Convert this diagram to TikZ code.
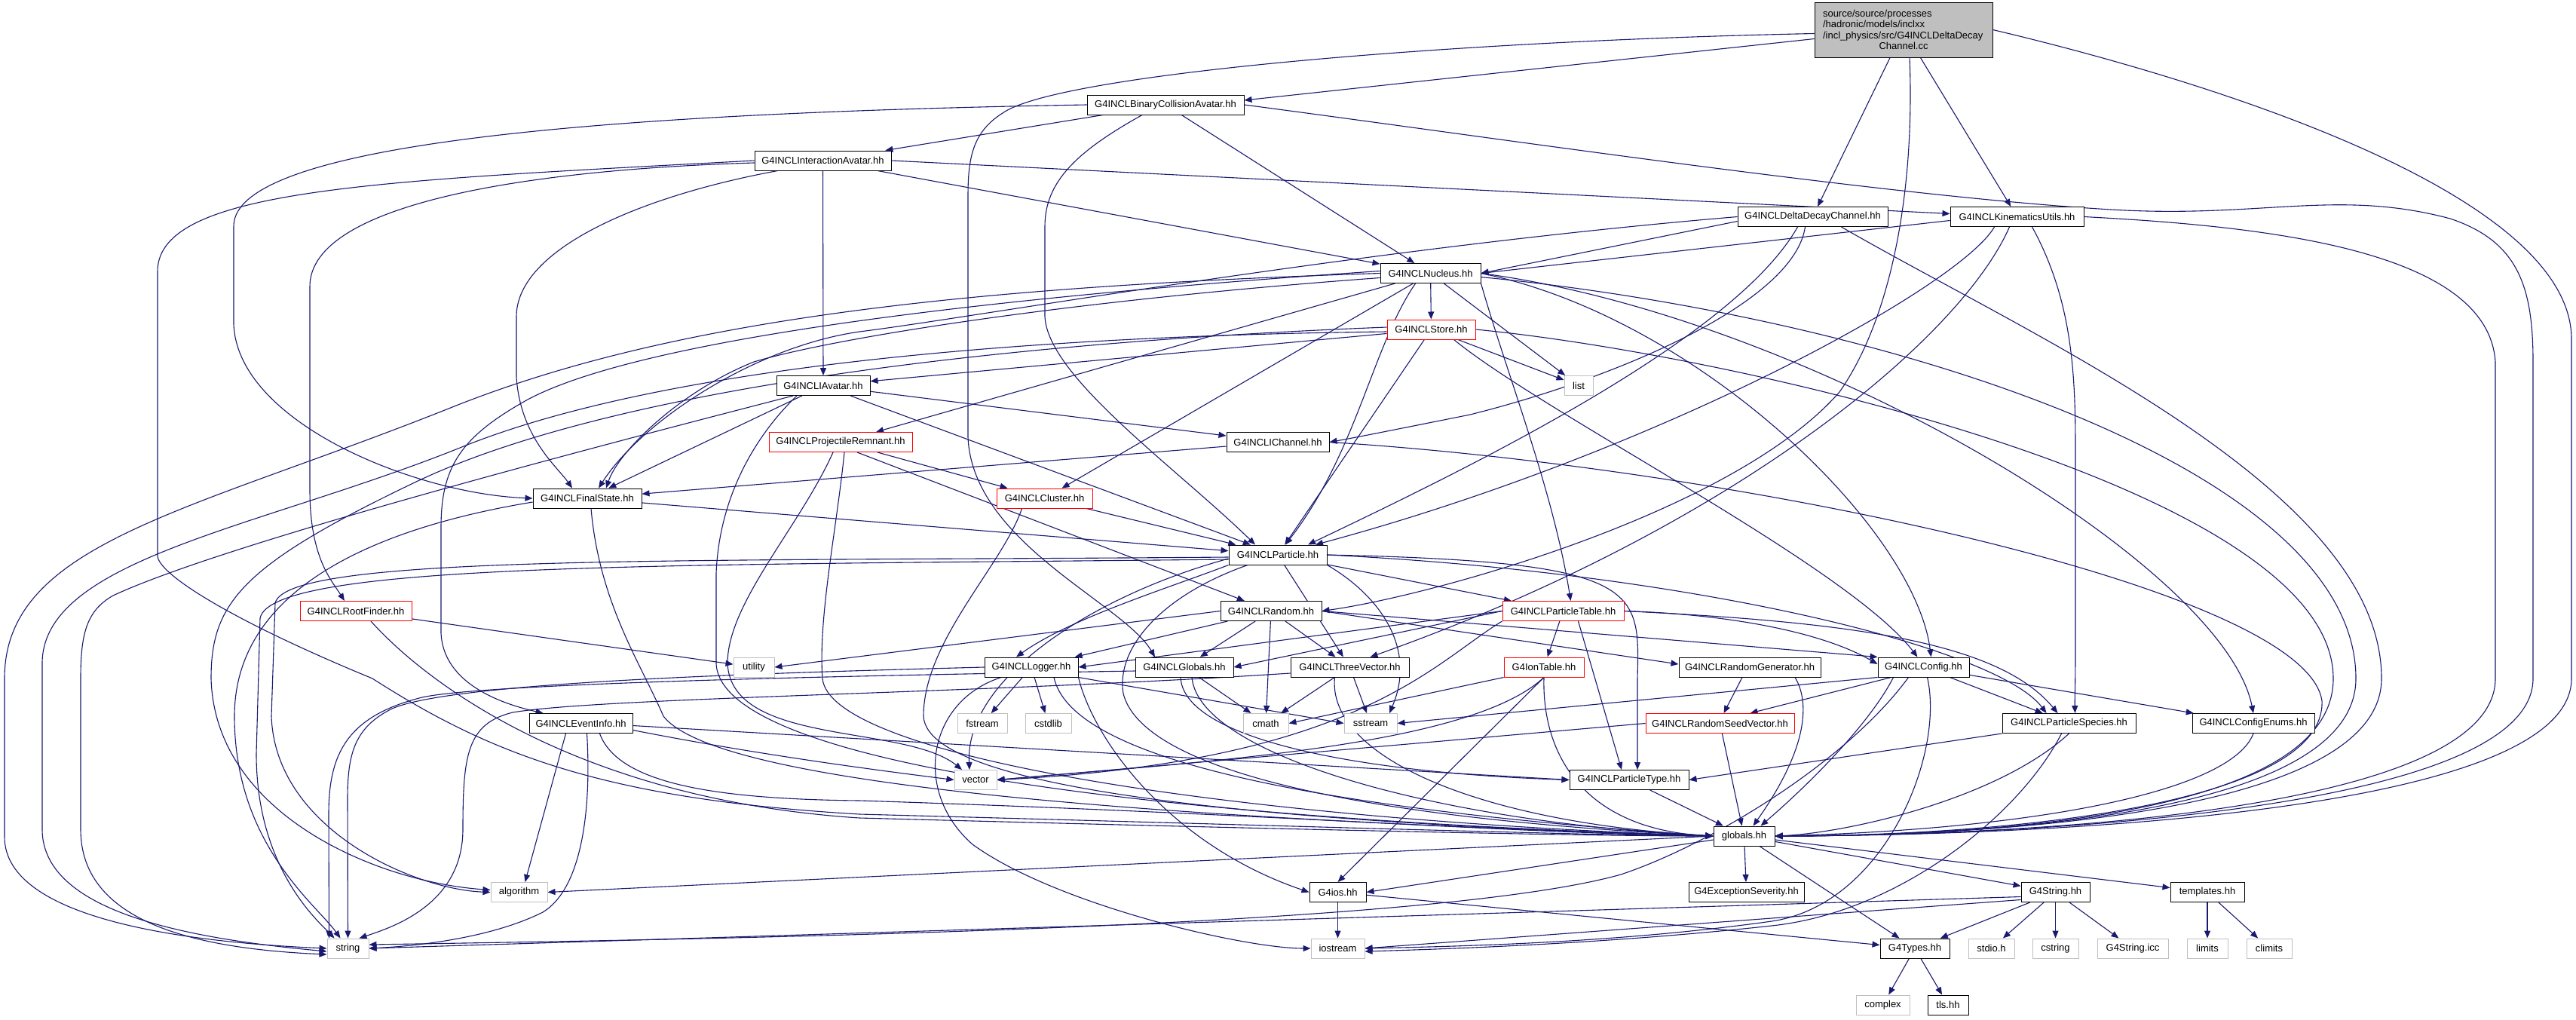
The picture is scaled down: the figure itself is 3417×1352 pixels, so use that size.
\documentclass[tikz,border=0pt]{standalone}
\usepackage{fontspec}
\setmainfont{Liberation Sans}
\usetikzlibrary{arrows.meta}
\definecolor{eb}{HTML}{191970}
\definecolor{gbord}{HTML}{BFBFBF}
\definecolor{mgray}{HTML}{BFBFBF}
\pgfdeclarelayer{bg}
\pgfsetlayers{bg,main}
\tikzset{
 nbox/.style={draw, fill=white, line width=1pt, minimum height=26pt, inner sep=0pt, anchor=center},
 nb/.style={nbox, draw=black},
 nr/.style={nbox, draw=red},
 ng/.style={nbox, draw=gbord},
 edg/.style={draw=eb, line width=1.1pt, -{Triangle[length=10pt,width=8pt]}},
}
\begin{document}
\begin{tikzpicture}[x=1pt,y=-1pt,font=\fontsize{13}{14.4}\selectfont]
\useasboundingbox (0,0) rectangle (3417,1352);
% nodes
\node[nbox, draw=black, fill=mgray, minimum width=236pt, minimum height=73pt, text width=214pt, inner xsep=11pt] (m) at (2525,39.5)
 {\raggedright source/source/processes\\/hadronic/models/inclxx\\/incl\_physics/src/G4INCLDeltaDecay\par\centering Channel.cc\par};
\node[nb, minimum width=208pt] (bca) at (1546,139) {G4INCLBinaryCollisionAvatar.hh};
\node[nb, minimum width=181pt] (ia) at (1091.5,213) {G4INCLInteractionAvatar.hh};
\node[nb, minimum width=133pt] (nuc) at (1897.5,362.5) {G4INCLNucleus.hh};
\node[nr, minimum width=117pt] (st) at (1898.5,437) {G4INCLStore.hh};
\node[nb, minimum width=199pt] (ddc) at (2404.5,287.5) {G4INCLDeltaDecayChannel.hh};
\node[nb, minimum width=177pt] (kin) at (2675.5,287.5) {G4INCLKinematicsUtils.hh};
\node[nb, minimum width=124pt] (iav) at (1092,511.5) {G4INCLIAvatar.hh};
\node[nr, minimum width=190pt] (pr) at (1115,586.5) {G4INCLProjectileRemnant.hh};
\node[nb, minimum width=144pt] (fs) at (779,661) {G4INCLFinalState.hh};
\node[nr, minimum width=148pt] (rf) at (472,810.5) {G4INCLRootFinder.hh};
\node[ng, minimum width=54pt] (util) at (1000,885) {utility};
\node[ng, minimum width=38pt] (lst) at (2094,511.5) {list};
\node[nb, minimum width=136pt] (ich) at (1695,586.5) {G4INCLIChannel.hh};
\node[nr, minimum width=127pt] (cl) at (1385.5,661) {G4INCLCluster.hh};
\node[nb, minimum width=130pt] (pa) at (1695,736) {G4INCLParticle.hh};
\node[nb, minimum width=134pt] (ra) at (1686,810.5) {G4INCLRandom.hh};
\node[nr, minimum width=161pt] (ptab) at (2073.5,810.5) {G4INCLParticleTable.hh};
\node[nb, minimum width=124pt] (log) at (1368,885) {G4INCLLogger.hh};
\node[nb, minimum width=130pt] (glo) at (1571,885) {G4INCLGlobals.hh};
\node[nb, minimum width=157pt] (tv) at (1790.5,885) {G4INCLThreeVector.hh};
\node[nr, minimum width=106pt] (ion) at (2048,885) {G4IonTable.hh};
\node[nb, minimum width=188pt] (rg) at (2321,885) {G4INCLRandomGenerator.hh};
\node[nb, minimum width=121pt] (cfg) at (2551.5,885) {G4INCLConfig.hh};
\node[nb, minimum width=137pt] (ev) at (770.5,959.5) {G4INCLEventInfo.hh};
\node[ng, minimum width=75pt] (alg) at (688.5,1183.5) {algorithm};
\node[ng, minimum width=55pt] (str) at (461.5,1258) {string};
\node[ng, minimum width=66pt] (fst) at (1303,959.5) {fstream};
\node[ng, minimum width=61pt] (cstd) at (1390.5,959.5) {cstdlib};
\node[ng, minimum width=60pt] (cmath) at (1679,959.5) {cmath};
\node[ng, minimum width=70pt] (sst) at (1818,959.5) {sstream};
\node[nr, minimum width=197pt] (rsv) at (2281.5,959.5) {G4INCLRandomSeedVector.hh};
\node[nb, minimum width=177pt] (ps) at (2744.5,959.5) {G4INCLParticleSpecies.hh};
\node[nb, minimum width=162pt] (ce) at (2989,959.5) {G4INCLConfigEnums.hh};
\node[ng, minimum width=56pt] (vec) at (1294,1034.5) {vector};
\node[nb, minimum width=158pt] (ptype) at (2161,1034.5) {G4INCLParticleType.hh};
\node[nb, minimum width=81pt] (gl) at (2313.5,1109) {globals.hh};
\node[nb, minimum width=75pt] (g4ios) at (1774.5,1183.5) {G4ios.hh};
\node[nb, minimum width=153pt] (exs) at (2316.5,1183.5) {G4ExceptionSeverity.hh};
\node[nb, minimum width=91pt] (g4s) at (2726.5,1183.5) {G4String.hh};
\node[nb, minimum width=98pt] (tmpl) at (2928,1183.5) {templates.hh};
\node[ng, minimum width=71pt] (ios) at (1774.5,1258) {iostream};
\node[nb, minimum width=92pt] (g4t) at (2540,1258) {G4Types.hh};
\node[ng, minimum width=61pt] (stdio) at (2641.5,1258) {stdio.h};
\node[ng, minimum width=61pt] (cstr) at (2726.5,1258) {cstring};
\node[ng, minimum width=94pt] (g4si) at (2829,1258) {G4String.icc};
\node[ng, minimum width=54pt] (lim) at (2928,1258) {limits};
\node[ng, minimum width=60pt] (clim) at (3010,1258) {climits};
\node[ng, minimum width=71pt] (cplx) at (2497.5,1333) {complex};
\node[nb, minimum width=54pt] (tls) at (2584,1333) {tls.hh};

\begin{pgfonlayer}{bg}
% main
\draw[edg] ([yshift=-12pt]m.west) -- ([yshift=6pt]bca.east);
\draw[edg] ([yshift=-5pt]m.west) .. controls (1900,55) and (1400,100) .. (1330,150) .. controls (1290,175) and (1284,210) .. (1284,260) -- (1284,580) .. controls (1290,720) and (1490,800) .. ([xshift=-39pt]glo.north);
\draw[edg] (m) -- (ddc);
\draw[edg] (m) -- (kin);
\draw[edg] ([xshift=8pt]m.south) .. controls (2540,250) and (2510,420) .. (2440,520) .. controls (2300,680) and (1900,790) .. (ra.east);
\draw[edg] (m.east) .. controls (2900,100) and (3411,250) .. (3411,450) -- (3411,900) .. controls (3411,1080) and (2700,1108) .. (gl.east);
% BCA
\draw[edg] (bca) -- (ia);
\draw[edg] (bca) -- (nuc);
\draw[edg] (bca.west) .. controls (800,150) and (310,190) .. (310,300) -- (310,430) .. controls (315,560) and (550,655) .. (fs.west);
\draw[edg] ([xshift=-31pt]bca.south) .. controls (1430,200) and (1386,240) .. (1386,300) -- (1386,420) .. controls (1390,500) and (1560,620) .. ([xshift=-30pt]pa.north);
\draw[edg] (bca.east) .. controls (2000,185) and (2500,260) .. (2800,278) .. controls (3000,290) and (3100,250) .. (3250,290) .. controls (3340,320) and (3360,380) .. (3360,480) -- (3360,900) .. controls (3360,1075) and (2700,1108) .. (gl.east);
% IA
\draw[edg] (ia) -- (iav);
\draw[edg] (ia) -- (nuc);
\draw[edg] (ia.east) -- ([yshift=4pt]kin.west);
\draw[edg] ([yshift=-3pt]ia.west) .. controls (700,225) and (411,270) .. (411,380) -- (411,650) .. controls (411,740) and (440,770) .. ([xshift=-15pt]rf.north);
\draw[edg] ([xshift=-60pt]ia.south) .. controls (850,260) and (685,330) .. (685,420) -- (685,500) .. controls (690,580) and (740,620) .. ([xshift=-20pt]fs.north);
\draw[edg] (ia.west) .. controls (500,240) and (209,250) .. (209,360) -- (209,737) .. controls (209,760) and (300,820) .. (494,900) .. controls (650,1000) and (800,1060) .. (1140,1080) .. controls (1700,1095) and (2100,1108) .. (gl.west);
% KinU
\draw[edg] ([yshift=-5pt]kin.west) -- (nuc.east);
\draw[edg] ([xshift=-30pt]kin.south) .. controls (2600,380) and (2200,600) .. ([xshift=50pt]pa.north);
\draw[edg] ([xshift=-10pt]kin.south) .. controls (2600,450) and (2300,700) .. ([xshift=27pt]tv.north);
\draw[edg] ([xshift=20pt]kin.south) .. controls (2750,400) and (2753,500) .. (2753,600) -- (2753,860) .. controls (2753,910) and (2752,930) .. ([xshift=8pt]ps.north);
\draw[edg] (kin.east) .. controls (3000,300) and (3300,330) .. (3310,480) -- (3310,900) .. controls (3310,1075) and (2700,1108) .. (gl.east);
% DDC
\draw[edg] ([yshift=-6pt]ddc.west) -- (nuc.east);
\draw[edg] ([xshift=-10pt]ddc.south) .. controls (2380,400) and (2150,500) .. (1950,550) .. controls (1850,570) and (1800,580) .. (ich.east);
\draw[edg] ([xshift=-20pt]ddc.south) .. controls (2300,450) and (1950,620) .. ([xshift=40pt]pa.north);
\draw[edg] (ddc.west) .. controls (1800,330) and (1300,420) .. (1140,440) .. controls (1000,460) and (850,560) .. ([xshift=15pt]fs.north);
\draw[edg] ([xshift=38pt]ddc.south) .. controls (2700,450) and (3159,650) .. (3159,900) .. controls (3159,1070) and (2700,1108) .. (gl.east);
% Nucleus
\draw[edg] (nuc) -- (st);
\draw[edg] (nuc) -- (lst);
\draw[edg] (nuc) -- (pr);
\draw[edg] (nuc) -- (cl);
\draw[edg] ([yshift=-6pt]nuc.west) .. controls (1400,400) and (1100,450) .. (1000,480) .. controls (900,520) and (820,600) .. ([xshift=25pt]fs.north);
\draw[edg] ([xshift=-20pt]nuc.south) .. controls (1820,460) and (1800,600) .. ([xshift=10pt]pa.north);
\draw[edg] (nuc.south east) .. controls (2000,500) and (2060,650) .. ([xshift=10pt]ptab.north);
\draw[edg] (nuc.east) .. controls (2250,420) and (2540,700) .. ([xshift=10pt]cfg.north);
\draw[edg] (nuc.east) .. controls (2400,420) and (2950,750) .. (ce.north);
\draw[edg] ([yshift=-5pt]nuc.east) .. controls (2500,420) and (3125,620) .. (3125,900) .. controls (3125,1070) and (2700,1108) .. (gl.east);
\draw[edg] (nuc.west) .. controls (1300,380) and (900,420) .. (600,540) .. controls (250,680) and (6,720) .. (6,900) -- (6,1110) .. controls (6,1220) and (250,1250) .. (str.west);
\draw[edg] ([yshift=3pt]nuc.west) .. controls (1300,395) and (850,450) .. (700,530) .. controls (610,580) and (585,620) .. (585,700) -- (585,840) .. controls (588,900) and (650,930) .. ([xshift=-50pt]ev.north);
% Store
\draw[edg] (st) -- (iav);
\draw[edg] (st) -- (lst);
\draw[edg] (st) -- (pa);
\draw[edg] ([xshift=30pt]st.south) .. controls (2050,550) and (2450,750) .. ([xshift=-8pt]cfg.north);
\draw[edg] (st.east) .. controls (2300,470) and (3095,650) .. (3095,900) .. controls (3095,1070) and (2700,1108) .. (gl.east);
\draw[edg] ([yshift=-3pt]st.west) .. controls (1400,445) and (900,480) .. (620,590) .. controls (350,700) and (56,740) .. (56,880) -- (56,1100) .. controls (56,1210) and (250,1245) .. ([yshift=-4pt]str.west);
\draw[edg] ([yshift=3pt]st.west) .. controls (1300,455) and (800,520) .. (550,640) .. controls (320,750) and (280,800) .. (280,900) .. controls (285,1080) and (500,1170) .. ([yshift=3pt]alg.west);
% IAvatar
\draw[edg] (iav) -- (ich);
\draw[edg] (iav) -- (pa);
\draw[edg] (iav) -- (fs);
\draw[edg] ([xshift=-40pt]iav.south) .. controls (800,590) and (300,720) .. (150,790) .. controls (115,810) and (107,840) .. (107,900) -- (107,1100) .. controls (107,1220) and (250,1258) .. ([yshift=-8pt]str.west);
\draw[edg] ([xshift=-35pt]iav.south) .. controls (1020,560) and (955,640) .. (950,760) -- (950,880) .. controls (955,1010) and (1500,1085) .. (gl.west);
% IChannel
\draw[edg] (ich) -- (fs);
\draw[edg] (ich.east) .. controls (2300,620) and (3060,780) .. (3080,930) .. controls (3085,1060) and (2700,1108) .. (gl.east);
% ProjectileRemnant
\draw[edg] (pr) -- (cl);
\draw[edg] ([xshift=22pt]pr.south) -- (ra);
\draw[edg] ([xshift=-10pt]pr.south) .. controls (1060,700) and (965,800) .. (965,880) .. controls (970,990) and (1200,960) .. ([xshift=-18pt]vec.north);
\draw[edg] ([xshift=5pt]pr.south) .. controls (1110,700) and (1085,820) .. (1091,900) .. controls (1100,1000) and (1600,1085) .. (gl.west);
% Cluster
\draw[edg] (cl) -- (pa);
\draw[edg] ([xshift=-30pt]cl.south) .. controls (1330,750) and (1225,850) .. (1225,950) .. controls (1230,1060) and (1800,1095) .. (gl.west);
% FinalState
\draw[edg] (fs) -- (pa);
\draw[edg] ([yshift=-5pt]fs.west) .. controls (500,700) and (311,780) .. (311,950) .. controls (311,1120) and (420,1200) .. ([xshift=-10pt]str.north);
\draw[edg] ([xshift=5pt]fs.south) .. controls (795,800) and (850,880) .. (880,950) .. controls (950,1040) and (1500,1085) .. (gl.west);
% RootFinder
\draw[edg] (rf) -- (util);
\draw[edg] ([xshift=20pt]rf.south) .. controls (560,900) and (760,1060) .. (1140,1085) .. controls (1700,1100) and (2100,1109) .. (gl.west);
% Particle
\draw[edg] (pa) -- (tv);
\draw[edg] (pa) -- (ptab);
\draw[edg] (pa.south west) .. controls (1550,780) and (1420,820) .. ([xshift=-20pt]log.north);
\draw[edg] ([yshift=-5pt]pa.west) .. controls (1450,790) and (1280,900) .. ([xshift=-8pt]vec.north);
\draw[edg] (pa.south east) .. controls (1830,790) and (1880,860) .. ([xshift=25pt]sst.north);
\draw[edg] ([xshift=-40pt]pa.south) .. controls (1540,790) and (1480,860) .. (1490,920) .. controls (1510,1000) and (1700,1080) .. (gl.west);
\draw[edg] (pa.east) .. controls (2180,745) and (2175,780) .. (2172,900) -- ([xshift=11pt]ptype.north);
\draw[edg] (pa.east) .. controls (2250,760) and (2650,860) .. ([xshift=-30pt]ps.north);
\draw[edg] ([yshift=-3pt]pa.west) .. controls (900,745) and (380,735) .. (365,800) -- (360,950) .. controls (365,1100) and (550,1180) .. (alg.west);
\draw[edg] ([yshift=-6pt]pa.west) .. controls (900,750) and (360,745) .. (345,820) -- (340,1000) .. controls (340,1150) and (420,1220) .. ([xshift=-18pt]str.north);
% Random
\draw[edg] (ra) -- (log);
\draw[edg] (ra) -- (glo);
\draw[edg] (ra) -- (cmath);
\draw[edg] (ra) -- (tv);
\draw[edg] (ra.east) -- ([yshift=4pt]rg.west);
\draw[edg] (ra.east) -- (cfg.north west);
\draw[edg] (ra.west) -- (util.east);
% ParticleTable
\draw[edg] (ptab) -- (ion);
\draw[edg] ([xshift=20pt]ptab.south) -- ([xshift=-10pt]ptype.north);
\draw[edg] (ptab.west) -- (log.east);
\draw[edg] (ptab.west) -- (glo.east);
\draw[edg] (ptab.east) .. controls (2300,815) and (2420,840) .. ([yshift=4pt]cfg.west);
\draw[edg] (ptab.east) .. controls (2450,825) and (2650,850) .. ([xshift=-15pt]ps.north);
\draw[edg] (ptab.south west) .. controls (1900,880) and (1800,1010) .. (vec.east);
% Logger
\draw[edg] (log) -- (fst);
\draw[edg] (log) -- (cstd);
\draw[edg] (log.south east) -- (sst.west);
\draw[edg] (log.west) .. controls (1000,893) and (600,905) .. (520,940) .. controls (470,965) and (461,1000) .. (461,1060) -- (str.north);
\draw[edg] ([xshift=-40pt]log.south) .. controls (1230,930) and (1210,1050) .. (1290,1120) .. controls (1400,1200) and (1650,1258) .. (ios.west);
\draw[edg] (log.south east) .. controls (1450,980) and (1550,1120) .. (g4ios.west);
\draw[edg] ([xshift=30pt]log.south) .. controls (1420,1000) and (1700,1070) .. (gl.west);
% Globals
\draw[edg] (glo) -- (cmath);
\draw[edg] ([yshift=-5pt]glo.west) .. controls (1200,895) and (650,905) .. (560,925) .. controls (460,950) and (436,1000) .. (436,1080) -- ([xshift=-25pt]str.north);
\draw[edg] ([xshift=10pt]glo.south) .. controls (1590,1000) and (1900,1090) .. (gl.west);
\draw[edg] ([xshift=-5pt]glo.south) .. controls (1570,980) and (1800,1025) .. (ptype.west);
% ThreeVector
\draw[edg] (tv) -- (cmath);
\draw[edg] (tv) -- (sst);
\draw[edg] ([yshift=-8pt]tv.west) .. controls (1300,920) and (800,925) .. (680,945) .. controls (620,960) and (614,1000) .. (614,1100) .. controls (614,1200) and (520,1230) .. ([xshift=15pt]str.north);
\draw[edg] ([xshift=-20pt]tv.south) .. controls (1760,1000) and (1950,1090) .. (gl.west);
% IonTable
\draw[edg] (ion.south west) -- (cmath.east);
\draw[edg] (ion.south) -- (g4ios.north);
\draw[edg] (ion.south) .. controls (1950,990) and (1600,1010) .. (vec.east);
\draw[edg] (ion.south) .. controls (2045,1000) and (2100,1100) .. (gl.west);
% RandomGenerator
\draw[edg] ([xshift=-10pt]rg.south) -- ([xshift=5pt]rsv.north);
\draw[edg] ([xshift=60pt]rg.south) .. controls (2400,930) and (2400,990) .. ([xshift=12pt]gl.north);
% Config
\draw[edg] ([xshift=-43pt]cfg.south) -- ([xshift=40pt]rsv.north);
\draw[edg] (cfg) -- (ps);
\draw[edg] (cfg) -- (ce);
\draw[edg] ([xshift=-40pt]cfg.south) .. controls (2480,960) and (2400,1040) .. ([xshift=22pt]gl.north);
\draw[edg] (cfg.south west) -- (sst.east);
\draw[edg] ([xshift=-20pt]cfg.south) .. controls (2450,1010) and (2270,1120) .. (2150,1160) .. controls (1900,1230) and (1000,1245) .. ([yshift=5pt]str.east);
\draw[edg] ([xshift=5pt]cfg.south) .. controls (2580,1000) and (2500,1200) .. (2350,1222) .. controls (2150,1250) and (1950,1255) .. (ios.east);
% RandomSeedVector
\draw[edg] (rsv.west) -- (vec.east);
\draw[edg] (rsv) -- (gl);
% EventInfo
\draw[edg] ([yshift=-3pt]ev.east) -- (ptype.west);
\draw[edg] ([yshift=-9pt]ev.east) .. controls (1000,1000) and (1150,1020) .. (vec.west);
\draw[edg] ([xshift=-20pt]ev.south) -- ([xshift=8pt]alg.north);
\draw[edg] ([xshift=25pt]ev.south) .. controls (820,1040) and (950,1060) .. (1140,1062) .. controls (1700,1080) and (2000,1105) .. (gl.west);
\draw[edg] ([xshift=8pt]ev.south) .. controls (785,1080) and (770,1180) .. (720,1210) .. controls (650,1245) and (550,1255) .. (str.east);
% ParticleSpecies, ConfigEnums, ParticleType
\draw[edg] (ps.south west) -- (ptype.east);
\draw[edg] (ps.south) .. controls (2650,1060) and (2450,1105) .. (gl.east);
\draw[edg] ([xshift=-10pt]ps.south) .. controls (2680,1080) and (2520,1210) .. (2350,1228) .. controls (2150,1250) and (1950,1258) .. ([yshift=-4pt]ios.east);
\draw[edg] (ce.south) .. controls (2960,1050) and (2700,1100) .. (gl.east);
\draw[edg] (ptype) -- (gl);
% globals
\draw[edg] (gl) -- (exs);
\draw[edg] (gl) -- (g4t);
\draw[edg] (gl) -- (g4s);
\draw[edg] (gl) -- (tmpl);
\draw[edg] ([yshift=-5pt]gl.west) -- (g4ios.east);
\draw[edg] (gl.west) -- (alg.east);
% G4ios, G4String, templates, G4Types
\draw[edg] (g4ios) -- (ios);
\draw[edg] (g4ios) -- (g4t);
\draw[edg] (g4s) -- (g4t);
\draw[edg] (g4s) -- (stdio);
\draw[edg] (g4s) -- (cstr);
\draw[edg] (g4s) -- (g4si);
\draw[edg] ([yshift=-6pt]g4s.west) -- (str.east);
\draw[edg] ([yshift=-10pt]g4s.west) -- (ios.east);
\draw[edg] (tmpl) -- (lim);
\draw[edg] (tmpl) -- (clim);
\draw[edg] (g4t) -- (cplx);
\draw[edg] (g4t) -- (tls);
\end{pgfonlayer}
\end{tikzpicture}
\end{document}
